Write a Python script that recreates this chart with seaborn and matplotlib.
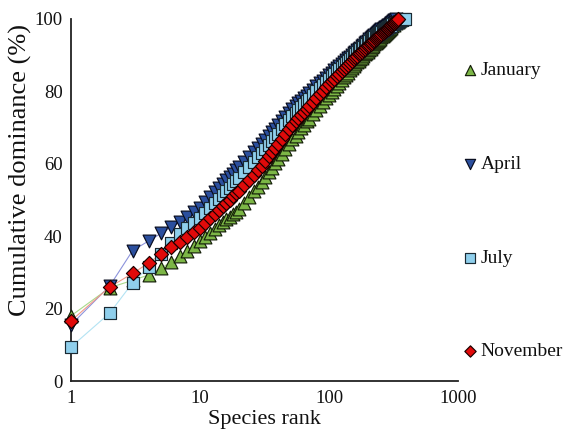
import matplotlib
matplotlib.use("Agg")
import matplotlib.pyplot as plt
import seaborn as sns
import pandas as pd
from matplotlib.ticker import FixedLocator, LogLocator, NullFormatter

# Species ranks sampled along the rank-abundance curves
rank = [1, 2, 3, 4, 5, 6, 7, 8, 9, 10, 11, 12, 13, 14, 15, 16, 17, 18, 19, 20,
        22, 24, 26, 28, 30, 32, 34, 36, 38, 40,
        43, 46, 49, 52, 55, 58, 61, 64, 67, 70,
        75, 80, 85, 90, 95, 100, 105, 110, 115, 120, 125, 130, 135, 140, 145, 150,
        155, 160, 165, 170, 175, 180, 185, 190, 195, 200, 205, 210, 215, 220, 225,
        230, 235, 240, 245, 250, 255, 260, 265, 270, 275, 280, 285, 290, 295, 300]

january_tail = [310, 320, 330, 340, 350, 358, 365]
april_tail = [305, 310, 315, 320, 325, 330]
july_tail = [310, 320, 330, 340, 350, 360, 370, 380, 388]
november_tail = [305, 310, 315, 320, 325, 330, 335, 343]

# Cumulative dominance (%) for each sampling month
january = [18.0, 25.8, 27.8, 29.3, 31.2, 32.9, 34.5, 35.9, 37.3, 38.7,
           39.9, 41.0, 42.0, 43.0, 43.8, 44.7, 45.4, 46.2, 46.8, 47.5,
           49.2, 50.9, 52.4, 53.7, 55.0, 56.4, 57.7, 58.9, 60.1, 61.2,
           62.7, 64.2, 65.5, 66.8, 67.8, 68.8, 69.8, 70.8, 71.7, 72.5,
           73.8, 74.9, 76.0, 77.1, 78.1, 79.0, 79.9, 80.7, 81.6, 82.4,
           83.1, 83.9, 84.5, 85.2, 85.9, 86.5,
           87.0, 87.5, 88.0, 88.4, 88.9, 89.3, 89.8, 90.2, 90.6, 91.0,
           91.4, 91.8, 92.2, 92.6, 93.0, 93.3, 93.7, 94.0, 94.3, 94.6,
           95.0, 95.3, 95.6, 95.8, 96.1, 96.4, 96.7, 97.0, 97.3, 97.5,
           98.0, 98.4, 98.8, 99.2, 99.5, 99.8, 100.0]

april = [15.5, 26.3, 36.0, 38.7, 40.8, 42.5, 44.0, 45.3, 46.6, 47.9,
         49.4, 50.8, 52.1, 53.3, 54.4, 55.4, 56.4, 57.3, 58.2, 59.0,
         60.5, 61.9, 63.2, 64.4, 65.5, 66.6, 67.7, 68.7, 69.7, 70.6,
         71.8, 73.0, 74.1, 75.1, 75.9, 76.7, 77.4, 78.2, 78.8, 79.5,
         80.5, 81.4, 82.2, 83.0, 83.8, 84.5, 85.2, 85.8, 86.4, 87.0,
         87.5, 88.1, 88.6, 89.1, 89.5, 90.0,
         90.5, 90.9, 91.3, 91.7, 92.1, 92.5, 92.9, 93.3, 93.7, 94.0,
         94.4, 94.7, 95.0, 95.3, 95.6, 95.9, 96.2, 96.5, 96.7, 96.9,
         97.1, 97.3, 97.5, 97.7, 97.9, 98.1, 98.3, 98.4, 98.6, 98.8,
         99.0, 99.2, 99.4, 99.6, 99.8, 100.0]

july = [9.4, 18.8, 27.1, 31.5, 35.2, 38.1, 40.6, 42.3, 43.7, 45.0,
        46.5, 47.9, 49.2, 50.3, 51.4, 52.4, 53.4, 54.3, 55.2, 56.0,
        57.6, 59.1, 60.5, 61.8, 63.0, 64.2, 65.3, 66.4, 67.4, 68.3,
        69.7, 71.0, 72.1, 73.1, 74.0, 74.9, 75.7, 76.5, 77.3, 78.0,
        79.1, 80.1, 81.0, 81.9, 82.7, 83.5, 84.2, 84.9, 85.6, 86.2,
        86.8, 87.4, 87.9, 88.5, 89.0, 89.5,
        90.0, 90.4, 90.8, 91.2, 91.6, 92.0, 92.4, 92.8, 93.2, 93.5,
        93.8, 94.1, 94.4, 94.7, 95.0, 95.3, 95.6, 95.8, 96.0, 96.2,
        96.5, 96.7, 96.9, 97.1, 97.3, 97.5, 97.7, 97.8, 98.0, 98.2,
        98.5, 98.7, 99.0, 99.2, 99.4, 99.6, 99.7, 99.9, 100.0]

november = [16.6, 26.0, 29.7, 32.6, 35.1, 37.0, 38.4, 39.8, 41.2, 42.3,
            43.7, 45.0, 46.2, 47.3, 48.3, 49.2, 50.1, 51.0, 51.8, 52.5,
            54.1, 55.6, 57.0, 58.3, 59.5, 60.8, 62.1, 63.2, 64.4, 65.4,
            66.9, 68.3, 69.6, 70.7, 71.7, 72.6, 73.5, 74.4, 75.2, 76.0,
            77.2, 78.2, 79.3, 80.2, 81.1, 82.0, 82.8, 83.5, 84.3, 84.9,
            85.6, 86.2, 86.8, 87.4, 87.9, 88.5,
            89.0, 89.4, 89.8, 90.2, 90.6, 91.0, 91.4, 91.8, 92.2, 92.5,
            92.9, 93.2, 93.5, 93.8, 94.1, 94.4, 94.7, 95.0, 95.3, 95.6,
            95.9, 96.1, 96.4, 96.6, 96.9, 97.1, 97.3, 97.5, 97.8, 98.0,
            98.3, 98.5, 98.8, 99.0, 99.2, 99.4, 99.6, 100.0]

months = ["January", "April", "July", "November"]
x_ticks = [1, 10, 100, 1000]
y_ticks = [0, 20, 40, 60, 80, 100]

series = {
    "January": (rank + january_tail, january),
    "April": (rank + april_tail, april),
    "July": (rank + july_tail, july),
    "November": (rank + november_tail, november),
}

style = {
    "January": dict(marker="^", face="#7cb646", edge="#141f08", line="#a9d98a", s=85),
    "April": dict(marker="v", face="#2b4f9e", edge="#080c1e", line="#8c93dc", s=85),
    "July": dict(marker="s", face="#8fcfec", edge="#1a2a33", line="#b3e3f3", s=72),
    "November": dict(marker="D", face="#e10a0a", edge="#1a0000", line="#f29a8a", s=52),
}

sns.set_theme(style="white")
plt.rcParams["font.family"] = ["Liberation Serif", "DejaVu Serif"]

fig = plt.figure(figsize=(5.65, 4.30), dpi=100, facecolor="white")
ax = fig.add_axes([71 / 565, 1 - 381 / 430, (458 - 71) / 565, (381 - 19) / 430])
ax.set_facecolor("white")

for m in months:
    xs, ys = series[m]
    df = pd.DataFrame({"rank": xs, "dominance": ys})
    st = style[m]
    sns.lineplot(data=df, x="rank", y="dominance", ax=ax, color=st["line"],
                 linewidth=0.8, sort=False, legend=False, clip_on=False, zorder=1)

for m in months:
    xs, ys = series[m]
    df = pd.DataFrame({"rank": xs, "dominance": ys})
    st = style[m]
    sns.scatterplot(data=df, x="rank", y="dominance", ax=ax, marker=st["marker"],
                    color=st["face"], edgecolor=st["edge"], linewidth=0.85,
                    s=st["s"], label=m, clip_on=False, zorder=3)

ax.set_xscale("log")
ax.set_xlim(1, 1000)
ax.set_ylim(0, 100)

ax.xaxis.set_major_locator(FixedLocator(x_ticks))
ax.set_xticklabels([str(t) for t in x_ticks])
ax.xaxis.set_minor_locator(LogLocator(base=10, subs=range(2, 10)))
ax.xaxis.set_minor_formatter(NullFormatter())
ax.set_yticks(y_ticks)
ax.set_yticklabels([str(t) for t in y_ticks])

for side in ["top", "right"]:
    ax.spines[side].set_visible(False)
for side in ["left", "bottom"]:
    ax.spines[side].set_color("#222222")
    ax.spines[side].set_linewidth(1.3)

ax.tick_params(axis="both", which="major", direction="inout", color="#222222",
               width=1.1, labelsize=13.5, labelcolor="#111111", pad=1)
ax.tick_params(axis="x", which="major", length=11)
ax.tick_params(axis="y", which="major", length=10)
ax.tick_params(axis="x", which="minor", direction="inout", length=7,
               width=1.1, color="#222222")

ax.set_xlabel("Species rank", fontsize=16, color="#111111", labelpad=2)
ax.set_ylabel("Cumulative dominance (%)", fontsize=19, color="#111111")
ax.yaxis.set_label_coords(-0.102, 0.583)

leg = ax.legend(loc="upper left", bbox_to_anchor=(1.005, 0.882), frameon=False,
                fontsize=14, labelspacing=3.91, handletextpad=0.05,
                handlelength=1.0, borderpad=0, borderaxespad=0, markerscale=0.8)
for t in leg.get_texts():
    t.set_color("#111111")

fig.savefig("out.png", dpi=100, facecolor="white")
